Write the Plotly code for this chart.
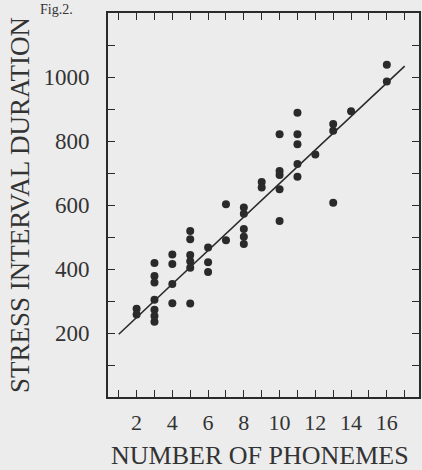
import plotly.graph_objects as go

# Data
phonemes = [2, 2,
            3, 3, 3, 3, 3, 3, 3,
            4, 4, 4, 4,
            5, 5, 5, 5, 5, 5,
            6, 6, 6,
            7, 7,
            8, 8, 8, 8, 8,
            9, 9,
            10, 10, 10, 10, 10,
            11, 11, 11, 11, 11,
            12,
            13, 13, 13,
            14,
            16, 16]
durations = [276, 258,
             419, 378, 358, 304, 273, 253, 235,
             445, 416, 353, 293,
             519, 493, 444, 424, 404, 292,
             467, 421, 391,
             602, 490,
             592, 573, 525, 501, 478,
             672, 655,
             821, 706, 694, 649, 550,
             888, 821, 790, 728, 688,
             758,
             853, 832, 607,
             893,
             1038, 986]
fit_x = [1, 17]
fit_y = [196, 1034]

x_tickvals = list(range(1, 18))
x_ticktext = [str(v) if v % 2 == 0 else "" for v in x_tickvals]
y_tickvals = list(range(100, 1200, 100))
y_ticktext = [str(v) if v in (200, 400, 600, 800, 1000) else "" for v in y_tickvals]

ink = "#2a2a2a"
serif = "Liberation Serif, Times New Roman, serif"

fig = go.Figure()
fig.add_trace(go.Scatter(x=fit_x, y=fit_y, mode="lines",
                         line=dict(color=ink, width=1.6), hoverinfo="skip"))
fig.add_trace(go.Scatter(x=phonemes, y=durations, mode="markers",
                         marker=dict(color=ink, size=8, line=dict(width=0))))

fig.update_layout(
    width=422, height=470,
    margin=dict(l=108, r=1, t=13, b=73),
    paper_bgcolor="#ececec", plot_bgcolor="#ececec",
    showlegend=False,
    font=dict(family=serif, color="#333333"),
    xaxis=dict(range=[0.4, 17.8], tickvals=x_tickvals, ticktext=x_ticktext,
               ticks="inside", ticklen=7, tickwidth=1.4, tickcolor=ink,
               showline=True, linecolor=ink, linewidth=1.6, mirror="ticks",
               showgrid=False, zeroline=False,
               tickfont=dict(size=22, family=serif, color="#333333"),
               ticklabelstandoff=5),
    yaxis=dict(range=[0, 1200], tickvals=y_tickvals, ticktext=y_ticktext,
               ticks="inside", ticklen=7, tickwidth=1.4, tickcolor=ink,
               showline=True, linecolor=ink, linewidth=1.6, mirror="ticks",
               showgrid=False, zeroline=False,
               tickfont=dict(size=23, family=serif, color="#333333"),
               ticklabelstandoff=12),
    annotations=[
        dict(text="STRESS INTERVAL DURATION", textangle=-90,
             xref="paper", yref="paper", x=-0.283, y=0.5,
             xanchor="center", yanchor="middle", showarrow=False,
             font=dict(size=27, family=serif, color="#333333")),
        dict(text="NUMBER OF PHONEMES",
             xref="paper", yref="paper", x=0.49, y=-0.152,
             xanchor="center", yanchor="middle", showarrow=False,
             font=dict(size=26, family=serif, color="#333333")),
        dict(text="Fig.2.",
             xref="paper", yref="paper", x=-0.225, y=1.0339,
             xanchor="left", yanchor="top", showarrow=False,
             font=dict(size=14, family=serif, color="#333333")),
    ],
)

fig.write_html("out.html",
               config={"displayModeBar": False},
               post_script="document.body.style.margin='0';document.body.style.overflow='hidden';")
